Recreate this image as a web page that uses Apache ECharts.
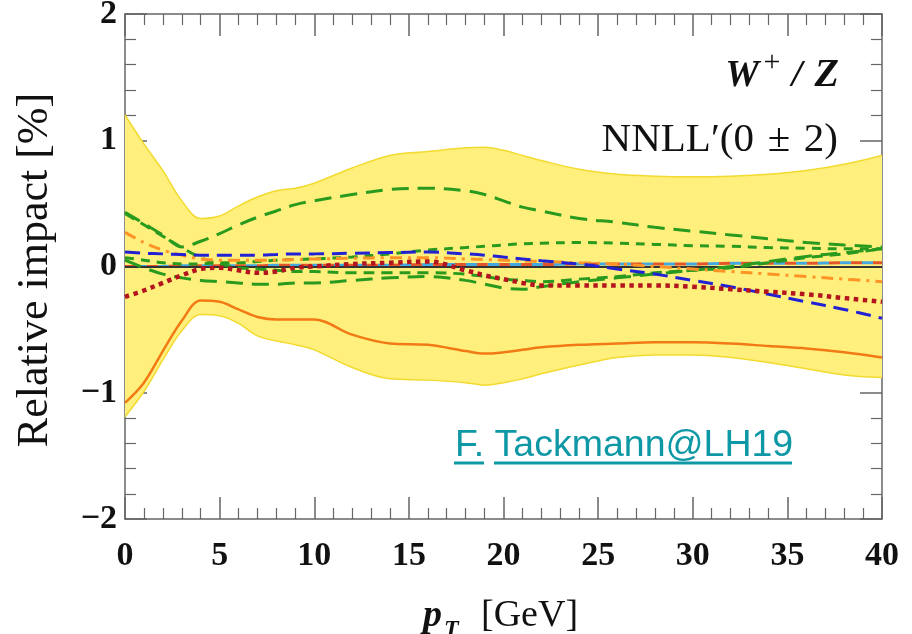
<!DOCTYPE html>
<html>
<head>
<meta charset="utf-8">
<script src="https://cdn.jsdelivr.net/npm/echarts@6/dist/echarts.min.js"></script>
<style>
  html, body { margin: 0; padding: 0; background: #fff; }
  #chart { width: 912px; height: 634px; }
</style>
</head>
<body>
<div id="chart"></div>
<script>
// pT sampling points (GeV)
const ptGrid = [0,1,2,3,4,5,6,7,8,9,10,12,14,16,18,19,20,21,22,24,26,28,30,32,34,36,38,40];

// total uncertainty band (percent)
const bandUpper = [1.20,0.97,0.76,0.52,0.38,0.40,0.48,0.55,0.60,0.62,0.66,0.78,0.88,0.91,0.94,0.945,0.92,0.88,0.84,0.77,0.73,0.715,0.71,0.715,0.73,0.76,0.81,0.88];
const bandLower = [-1.19,-0.99,-0.74,-0.51,-0.38,-0.39,-0.45,-0.55,-0.59,-0.62,-0.66,-0.80,-0.89,-0.90,-0.92,-0.94,-0.92,-0.89,-0.85,-0.78,-0.72,-0.70,-0.70,-0.72,-0.76,-0.81,-0.86,-0.88];

// individual impacts (percent)
const orangeSolid = [-1.08,-0.92,-0.67,-0.43,-0.27,-0.28,-0.34,-0.40,-0.42,-0.42,-0.42,-0.54,-0.61,-0.62,-0.67,-0.69,-0.68,-0.66,-0.64,-0.62,-0.61,-0.60,-0.60,-0.61,-0.63,-0.65,-0.68,-0.72];
const greenLongUpper = [0.43,0.34,0.25,0.155,0.20,0.26,0.33,0.39,0.44,0.49,0.52,0.57,0.61,0.62,0.60,0.57,0.52,0.47,0.44,0.38,0.35,0.31,0.28,0.25,0.22,0.19,0.17,0.155];
const greenMedium = [0.42,0.33,0.24,0.15,0.07,0.02,-0.01,-0.02,-0.03,-0.04,-0.04,-0.05,-0.05,-0.05,-0.06,-0.08,-0.10,-0.11,-0.12,-0.10,-0.08,-0.05,-0.03,-0.01,0.03,0.07,0.10,0.14];
const greenLongLower = [0.05,-0.01,-0.06,-0.09,-0.11,-0.12,-0.13,-0.14,-0.14,-0.13,-0.13,-0.11,-0.09,-0.08,-0.11,-0.14,-0.17,-0.18,-0.16,-0.12,-0.09,-0.06,-0.03,0.0,0.04,0.08,0.11,0.14];
const greenShort = [0.07,0.05,0.03,0.02,0.02,0.03,0.03,0.04,0.05,0.055,0.06,0.075,0.10,0.13,0.15,0.16,0.17,0.18,0.185,0.19,0.185,0.175,0.165,0.16,0.15,0.145,0.14,0.14];
const blueDashed = [0.115,0.105,0.10,0.095,0.09,0.09,0.09,0.09,0.095,0.10,0.10,0.105,0.11,0.115,0.10,0.09,0.075,0.06,0.045,0.02,-0.02,-0.06,-0.11,-0.16,-0.22,-0.28,-0.34,-0.41];
const orangeDashDot = [0.27,0.19,0.13,0.09,0.06,0.05,0.05,0.05,0.05,0.055,0.06,0.065,0.07,0.07,0.06,0.055,0.05,0.045,0.04,0.03,0.02,0.0,-0.02,-0.04,-0.06,-0.08,-0.10,-0.12];
const redDotted = [-0.24,-0.19,-0.13,-0.07,-0.02,-0.01,-0.03,-0.05,-0.04,-0.01,0.0,0.02,0.03,0.04,-0.03,-0.07,-0.10,-0.13,-0.15,-0.15,-0.15,-0.15,-0.16,-0.18,-0.20,-0.22,-0.25,-0.28];
const nearZero = [0.0,0.0,0.0,0.005,0.005,0.005,0.005,0.005,0.01,0.01,0.01,0.01,0.01,0.015,0.015,0.015,0.015,0.015,0.015,0.02,0.02,0.02,0.02,0.025,0.025,0.025,0.03,0.03];

// axis ticks
const xTicks = { min: 0, max: 40, step: 5 };
const yTicks = { min: -2, max: 2, step: 1 };

const pairs = ys => ptGrid.map((x, i) => [x, ys[i]]);

const serifBold = { fontFamily: 'Liberation Serif', fontWeight: 'bold', fontSize: 34, color: '#111' };
const axisGray = '#666';

function axisCommon(showLabel) {
  return {
    axisLine: { show: true, onZero: false, lineStyle: { color: axisGray, width: 1.5 } },
    axisTick: { show: true, inside: true, length: 22, lineStyle: { color: axisGray, width: 1.5 } },
    minorTick: { show: true, splitNumber: 5, length: 11, lineStyle: { color: axisGray, width: 1.2 } },
    splitLine: { show: false },
    minorSplitLine: { show: false },
    axisLabel: showLabel ? Object.assign({}, serifBold) : { show: false }
  };
}

function lineSeries(name, ys, color, width, type, extra) {
  return Object.assign({
    name: name,
    type: 'line',
    data: pairs(ys),
    smooth: 0.35,
    symbol: 'none',
    silent: true,
    lineStyle: { color: color, width: width, type: type, cap: 'butt' },
    z: 5
  }, extra || {});
}

const minusFmt = v => (v < 0 ? '\u2212' + (-v) : String(v));

const option = {
  animation: false,
  backgroundColor: '#ffffff',
  grid: { left: 125, right: 30, top: 14, bottom: 115, containLabel: false, outerBoundsMode: 'none' },
  xAxis: [
    Object.assign(axisCommon(true), {
      type: 'value', position: 'bottom', min: xTicks.min, max: xTicks.max, interval: xTicks.step
    }),
    Object.assign(axisCommon(false), {
      type: 'value', position: 'top', min: xTicks.min, max: xTicks.max, interval: xTicks.step
    })
  ],
  yAxis: [
    Object.assign(axisCommon(true), {
      type: 'value', position: 'left', min: yTicks.min, max: yTicks.max, interval: yTicks.step
    }),
    Object.assign(axisCommon(false), {
      type: 'value', position: 'right', min: yTicks.min, max: yTicks.max, interval: yTicks.step
    })
  ],
  series: [
    // yellow band: upper and lower halves filled towards zero
    lineSeries('band+', bandUpper, '#F2DA2E', 1.5, 'solid', { areaStyle: { color: '#FFF07E', opacity: 1, origin: 0 }, z: 1 }),
    lineSeries('band-', bandLower, '#F2DA2E', 1.5, 'solid', { areaStyle: { color: '#FFF07E', opacity: 1, origin: 0 }, z: 1 }),
    // reference line at zero
    {
      type: 'line', data: [], silent: true, z: 2,
      markLine: {
        silent: true, symbol: 'none', label: { show: false },
        lineStyle: { color: '#333', width: 2, type: 'solid' },
        data: [{ yAxis: 0 }]
      }
    },
    lineSeries('zero-red', nearZero, '#E2552A', 3, [11, 11], { smooth: 0.3, z: 3 }),
    lineSeries('zero-cyan', nearZero, '#44A8E0', 3, [11, 11], { smooth: 0.3, z: 3, lineStyle: { color: '#44A8E0', width: 3, type: [11, 11], dashOffset: 11, cap: 'butt' } }),
    lineSeries('green-short', greenShort, '#2A9A1E', 3, [9, 7]),
    lineSeries('green-medium', greenMedium, '#2A9A1E', 3, [11, 7]),
    lineSeries('green-long-lower', greenLongLower, '#2A9A1E', 3, [17, 9]),
    lineSeries('green-long-upper', greenLongUpper, '#2A9A1E', 3, [17, 9]),
    lineSeries('orange-dashdot', orangeDashDot, '#FF9426', 3, [12, 6, 3, 6]),
    lineSeries('blue', blueDashed, '#2222D4', 3, [15, 8]),
    lineSeries('red-dotted', redDotted, '#B3141E', 4.5, [4.5, 4.5]),
    lineSeries('orange-solid', orangeSolid, '#F27A14', 2.5, 'solid', { z: 6 })
  ],
  graphic: [
    // y axis title
    {
      type: 'text', x: 35, y: 270, rotation: Math.PI / 2,
      style: { text: 'Relative impact [%]', font: '44px "Liberation Serif"', fill: '#111', align: 'center', verticalAlign: 'middle' }
    },
    // x axis title: p_T [GeV]
    {
      type: 'text', x: 423, y: 616,
      style: { text: 'p', font: 'italic bold 38px "Liberation Serif"', fill: '#111', align: 'left', verticalAlign: 'middle' }
    },
    {
      type: 'text', x: 444, y: 630,
      style: { text: 'T', font: 'italic bold 24px "Liberation Serif"', fill: '#111', align: 'left', verticalAlign: 'middle' }
    },
    {
      type: 'text', x: 481, y: 616,
      style: { text: '[GeV]', font: '38px "Liberation Serif"', fill: '#111', align: 'left', verticalAlign: 'middle' }
    },
    // process label W+/Z
    {
      type: 'text', x: 759, y: 76,
      style: { text: 'W', font: 'italic bold 38px "Liberation Serif"', fill: '#111', align: 'right', verticalAlign: 'middle' }
    },
    {
      type: 'text', x: 772, y: 63,
      style: { text: '+', font: '30px "Liberation Serif"', fill: '#111', align: 'center', verticalAlign: 'middle' }
    },
    {
      type: 'text', x: 797, y: 76,
      style: { text: '/', font: 'italic bold 38px "Liberation Serif"', fill: '#111', align: 'center', verticalAlign: 'middle' }
    },
    {
      type: 'text', x: 839, y: 76,
      style: { text: 'Z', font: 'italic bold 40px "Liberation Serif"', fill: '#111', align: 'right', verticalAlign: 'middle' }
    },
    // order label
    {
      type: 'text', x: 838, y: 140,
      style: { text: 'NNLL\u2032(0\u2004\u00B1\u20042)', font: '41px "Liberation Serif"', fill: '#111', align: 'right', verticalAlign: 'middle' }
    },
    // credit link
    {
      type: 'text', x: 455, y: 446,
      style: { text: 'F. Tackmann@LH19', font: '37.5px "Liberation Sans"', fill: '#0E98A6', align: 'left', verticalAlign: 'middle' }
    },
    { type: 'line', shape: { x1: 454, y1: 463, x2: 484, y2: 463 }, style: { stroke: '#0E98A6', lineWidth: 3 } },
    { type: 'line', shape: { x1: 494, y1: 463, x2: 792, y2: 463 }, style: { stroke: '#0E98A6', lineWidth: 3 } }
  ]
};

const chart = echarts.init(document.getElementById('chart'), null, { renderer: 'canvas' });
option.yAxis[0].axisLabel.formatter = minusFmt;
option.yAxis[0].axisLabel.margin = 8;
option.xAxis[0].axisLabel.margin = 20;
chart.setOption(option);
</script>
</body>
</html>
